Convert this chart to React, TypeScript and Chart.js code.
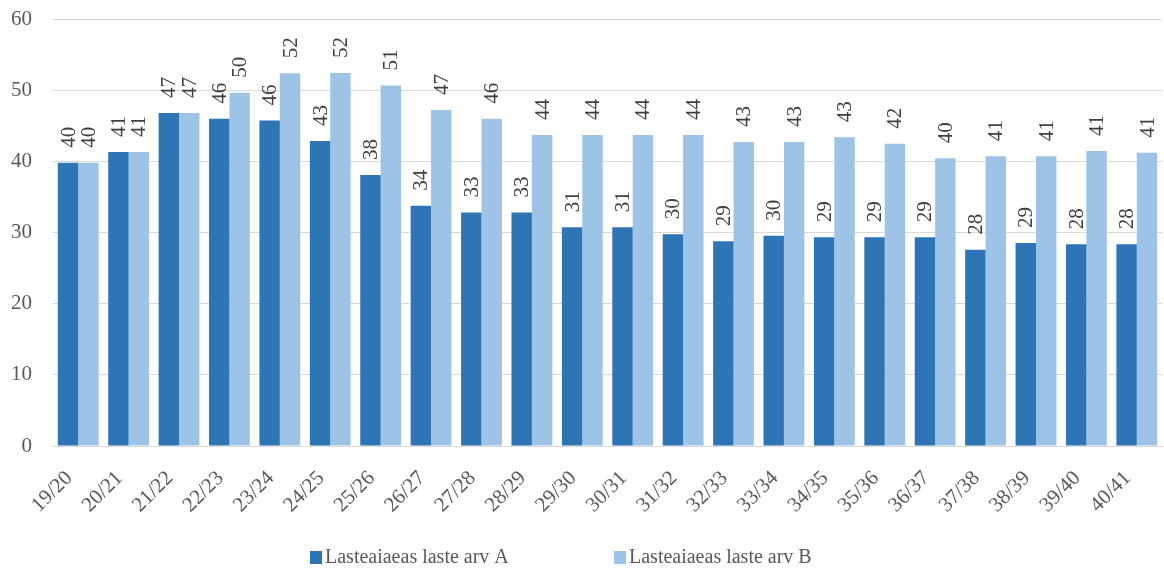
import React, { useEffect, useRef } from "react";
import { Chart, registerables } from "chart.js";

Chart.register(...registerables);

const categories = [
  "19/20", "20/21", "21/22", "22/23", "23/24", "24/25", "25/26", "26/27",
  "27/28", "28/29", "29/30", "30/31", "31/32", "32/33", "33/34", "34/35",
  "35/36", "36/37", "37/38", "38/39", "39/40", "40/41",
];

const seriesA = [
  39.8, 41.3, 46.8, 46.0, 45.75, 42.85, 38.07, 33.77, 32.8, 32.8, 30.73,
  30.73, 29.74, 28.76, 29.55, 29.32, 29.32, 29.32, 27.58, 28.52, 28.34, 28.34,
];

const seriesB = [
  39.8, 41.3, 46.8, 49.65, 52.36, 52.4, 50.67, 47.2, 45.99, 43.7, 43.7, 43.7,
  43.7, 42.7, 42.7, 43.4, 42.47, 40.45, 40.7, 40.7, 41.45, 41.2,
];

const seriesNames = ["Lasteaiaeas laste arv A", "Lasteaiaeas laste arv B"];
const seriesColors = ["#2E75B6", "#9DC3E6"];
const yTicks = { min: 0, max: 60, step: 10 };

const FONT = '"Liberation Serif", "Times New Roman", serif';

const dataLabelPlugin = {
  id: "rotatedDataLabels",
  afterDatasetsDraw(chart: any) {
    const ctx = chart.ctx;
    ctx.save();
    ctx.font = `21px ${FONT}`;
    ctx.fillStyle = "#404040";
    ctx.textAlign = "left";
    ctx.textBaseline = "middle";
    chart.data.datasets.forEach((ds: any, di: number) => {
      const meta = chart.getDatasetMeta(di);
      meta.data.forEach((bar: any, i: number) => {
        const v = ds.data[i];
        const txt = String(Math.round(v));
        ctx.save();
        ctx.translate(bar.x + 1, bar.y - 15);
        ctx.rotate(-Math.PI / 2);
        ctx.fillText(txt, 0, 0);
        ctx.restore();
      });
    });
    ctx.restore();
  },
};

const legendPlugin = {
  id: "customLegend",
  afterDraw(chart: any) {
    const ctx = chart.ctx;
    ctx.save();
    ctx.font = `20px ${FONT}`;
    ctx.textAlign = "left";
    ctx.textBaseline = "middle";
    const boxXs = [310, 614];
    chart.data.datasets.forEach((ds: any, i: number) => {
      const bx = boxXs[i];
      ctx.fillStyle = ds.backgroundColor;
      ctx.fillRect(bx, 551, 12, 13);
      ctx.fillStyle = "#595959";
      ctx.fillText(ds.label, bx + 15, 558);
    });
    ctx.restore();
  },
};

export default function App() {
  const canvasRef = useRef<HTMLCanvasElement | null>(null);

  useEffect(() => {
    const canvas = canvasRef.current;
    if (!canvas) return;
    const chart = new Chart(canvas, {
      type: "bar",
      data: {
        labels: categories,
        datasets: [
          {
            label: seriesNames[0],
            data: seriesA,
            backgroundColor: seriesColors[0],
            barPercentage: 1,
            categoryPercentage: 0.81,
          },
          {
            label: seriesNames[1],
            data: seriesB,
            backgroundColor: seriesColors[1],
            barPercentage: 1,
            categoryPercentage: 0.81,
          },
        ],
      },
      options: {
        responsive: false,
        animation: false,
        layout: { padding: { top: 19, right: 2, left: 0, bottom: 0 } },
        plugins: {
          legend: { display: false },
          tooltip: { enabled: false },
        },
        scales: {
          x: {
            grid: { display: false },
            border: { display: true, color: "#d9d9d9", width: 1 },
            ticks: {
              color: "#595959",
              font: { family: FONT, size: 21 },
              minRotation: 45,
              maxRotation: 45,
              padding: 12,
              labelOffset: -9,
            },
            afterFit: (s: any) => {
              s.height = 126;
              s.paddingLeft = 0;
              s.paddingRight = 0;
            },
          },
          y: {
            min: yTicks.min,
            max: yTicks.max,
            grid: { color: "#d9d9d9", drawTicks: false },
            border: { display: false },
            ticks: {
              stepSize: yTicks.step,
              color: "#595959",
              font: { family: FONT, size: 21 },
              padding: 21,
            },
            afterFit: (s: any) => {
              s.width = 53;
              s.paddingTop = 0;
              s.paddingBottom = 0;
            },
          },
        },
      },
      plugins: [dataLabelPlugin, legendPlugin],
    });
    return () => chart.destroy();
  }, []);

  return (
    <div style={{ position: "fixed", left: 0, top: 0, width: 1164, height: 572, background: "#fff" }}>
      <canvas ref={canvasRef} width={1164} height={572} />
    </div>
  );
}
